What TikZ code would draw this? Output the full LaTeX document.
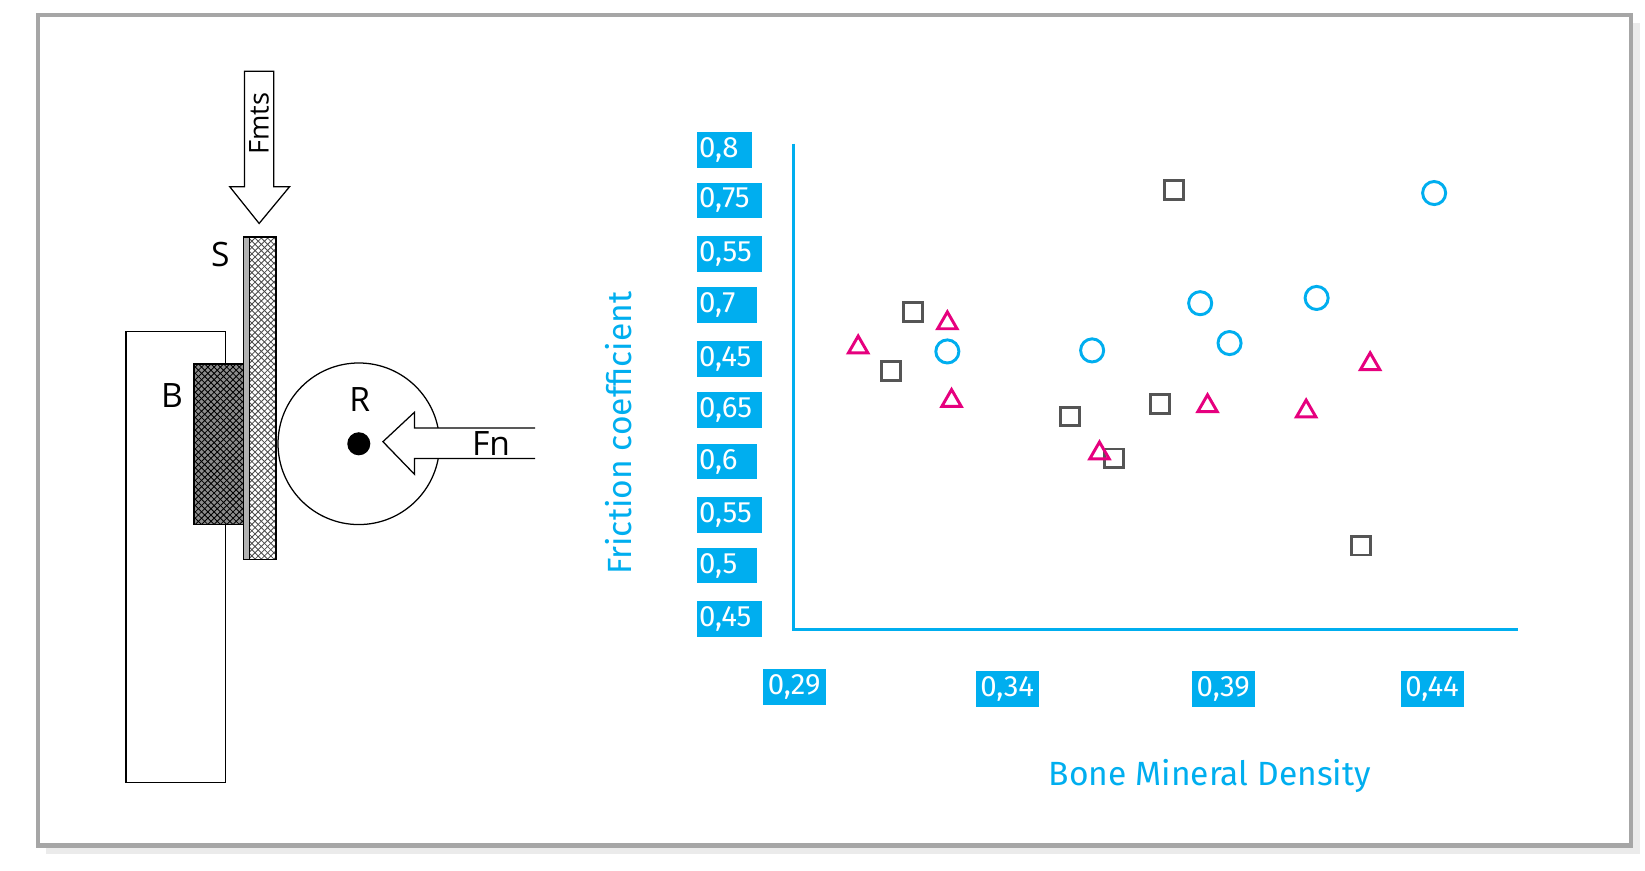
\documentclass[tikz,border=0pt]{standalone}
\usepackage{fontspec}
\setmainfont{Fira Sans}
\newfontfamily\dia{Open Sans}
\usetikzlibrary{patterns,shapes.geometric,shadows}
\definecolor{cy}{HTML}{00AEEF}
\definecolor{mg}{HTML}{E6007E}
\definecolor{sq}{HTML}{555555}
\begin{document}
\begin{tikzpicture}[x=0.5pt,y=-0.5pt,
  ylab/.style={fill=cy,text=white,font=\fontsize{14}{14}\selectfont,inner sep=1pt,minimum height=17pt,anchor=west,text width=#1,align=left},
  xlab/.style={fill=cy,text=white,font=\fontsize{14}{14}\selectfont,inner sep=1pt,minimum height=17pt,minimum width=30pt},
  sqm/.style={draw=sq,line width=1.4pt,minimum size=9pt,inner sep=0pt},
  cim/.style={circle,draw=cy,line width=1.4pt,minimum size=11pt,inner sep=0pt},
  trm/.style={isosceles triangle,isosceles triangle apex angle=60,shape border rotate=90,draw=mg,line width=1.4pt,minimum size=8pt,inner sep=0pt},
  lbl/.style={font=\dia\fontsize{16}{16}\selectfont}]
\useasboundingbox (0,0) rectangle (1568,830);
\fill[black!8] (44,22) rectangle (1563,814);
\fill[white] (36,14) rectangle (1555,806);
\draw[black!35,line width=2pt] (36,14) rectangle (1555,806);
% apparatus
\draw[line width=0.6pt] (120,316) rectangle (215,746);
\fill[black!45] (185,347) rectangle (232,500);
\draw[line width=0.6pt,pattern=crosshatch,pattern color=black] (185,347) rectangle (232,500);
\draw[line width=0.6pt,fill=black!30] (232,226) rectangle (238,533);
\draw[line width=0.6pt,pattern=crosshatch,pattern color=black!70] (238,226) rectangle (263,533);
\draw[line width=0.6pt,fill=white] (342,423) circle (77);
\node[circle,fill=black,minimum size=11pt,inner sep=0pt] (dot) at (342,423) {};
\draw[line width=0.6pt,fill=white] (510,408) -- (395,408) -- (395,393) -- (365,421) -- (395,452) -- (395,437) -- (510,437);
\draw[line width=0.6pt,fill=white] (233,68) -- (261,68) -- (261,178) -- (276,178) -- (247,213) -- (219,178) -- (233,178) -- cycle;
\node[font=\dia\fontsize{13}{13}\selectfont,rotate=90] (fmts) at (247,118) {Fmts};
\node[lbl] (S) at (210,243) {S};
\node[lbl] (B) at (164,377) {B};
\node[lbl] (R) at (343,381) {R};
\node[lbl] (Fn) at (468,423) {Fn};
% chart axes
\draw[cy,line width=1.5pt] (756,137) -- (756,600) -- (1447,600);
\foreach \v/\y/\w [count=\i] in {{0,8}/143/24pt,{0,75}/191/29pt,{0,55}/242/29pt,{0,7}/291/26.5pt,{0,45}/342/29pt,{0,65}/391/29pt,{0,6}/440/26.5pt,{0,55}/491/29pt,{0,5}/539/26.5pt,{0,45}/590/29pt}
  \node[ylab=\w] (y\i) at (664,\y) {\v};
\node[xlab] (x1) at (757,655) {0,29};
\node[xlab] (x2) at (960,657) {0,34};
\node[xlab] (x3) at (1166,657) {0,39};
\node[xlab] (x4) at (1365,657) {0,44};
\node[text=cy,rotate=90,font=\fontsize{16}{16}\selectfont] (yt) at (590,413) {Friction coefficient};
\node[text=cy,font=\fontsize{16}{16}\selectfont] (xt) at (1153,740) {Bone Mineral Density};
\foreach \p [count=\i] in {(1119,181),(870,297),(849,354),(1020,397),(1106,385),(1062,437),(1297,520)}
  \node[sqm] (s\i) at \p {};
\foreach \p [count=\i] in {(1367,184),(1144,289),(1255,284),(1172,327),(903,335),(1041,334)}
  \node[cim] (c\i) at \p {};
\foreach \p [count=\i] in {(903,308),(818,331),(907,382),(1151,387),(1245,392),(1306,347),(1048,432)}
  \node[trm] (t\i) at \p {};
\end{tikzpicture}
\end{document}
